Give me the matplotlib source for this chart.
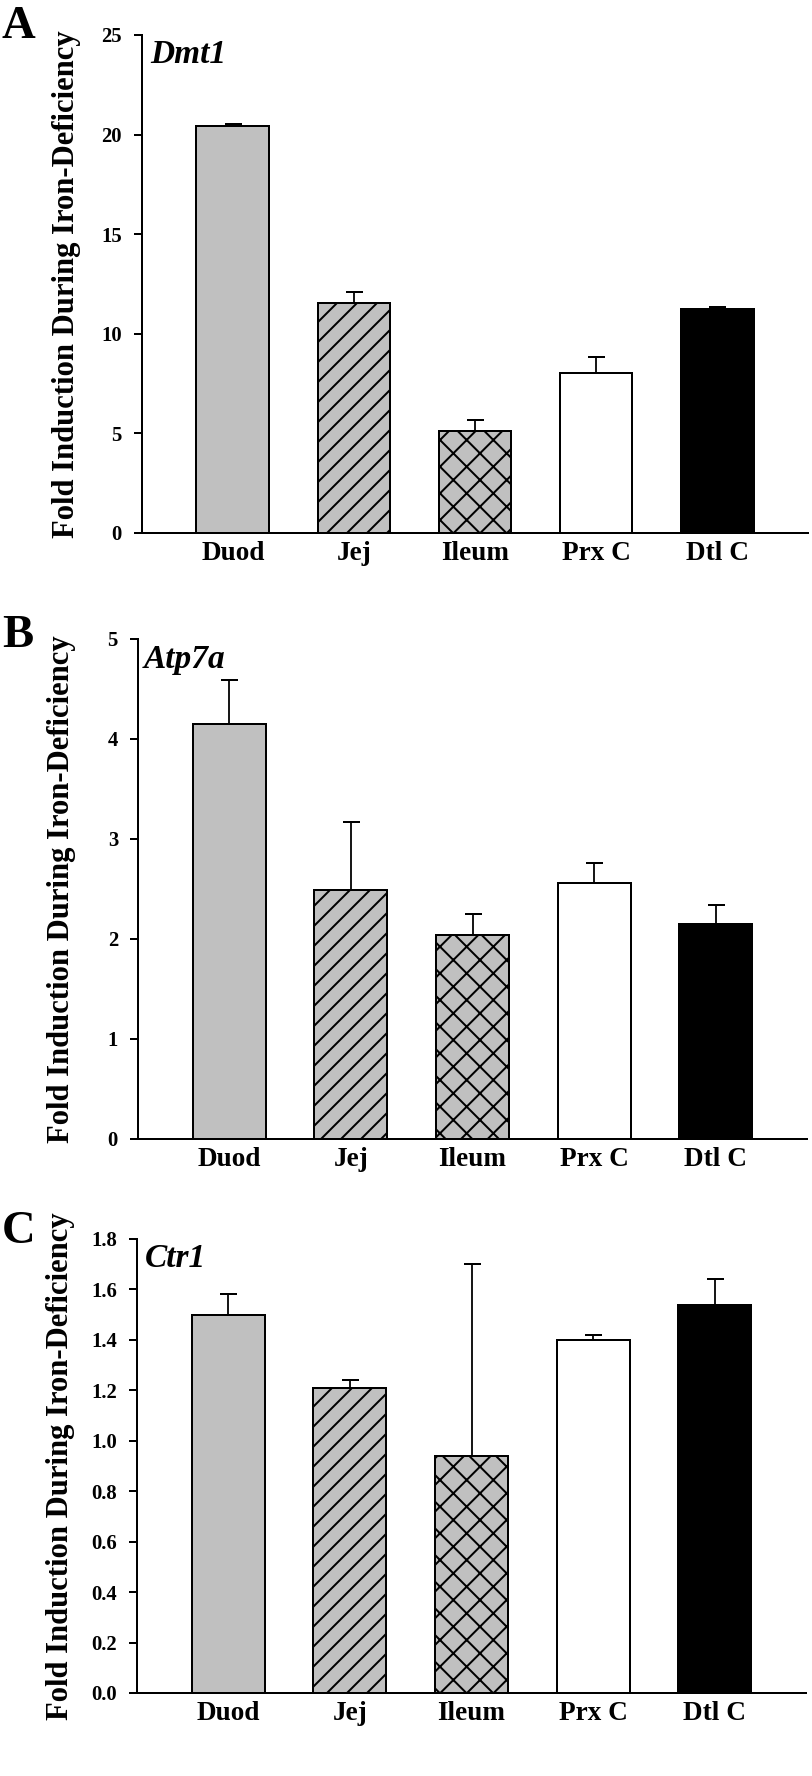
import matplotlib
matplotlib.use('Agg')
import matplotlib.pyplot as plt
from matplotlib.ticker import FormatStrFormatter
import numpy as np

# tissues on the x axis
tissues = ['Duod', 'Jej', 'Ileum', 'Prx C', 'Dtl C']

# fold induction (mean) and upper error
dmt1_mean = [20.43, 11.56, 5.12, 8.02, 11.25]
dmt1_err = [0.08, 0.52, 0.55, 0.80, 0.10]

atp7a_mean = [4.15, 2.49, 2.04, 2.56, 2.15]
atp7a_err = [0.44, 0.68, 0.21, 0.20, 0.19]

ctr1_mean = [1.50, 1.21, 0.94, 1.40, 1.54]
ctr1_err = [0.08, 0.03, 0.76, 0.02, 0.10]

dmt1_ticks = [0, 5, 10, 15, 20, 25]
atp7a_ticks = [0, 1, 2, 3, 4, 5]
ctr1_ticks = [0.0, 0.2, 0.4, 0.6, 0.8, 1.0, 1.2, 1.4, 1.6, 1.8]

# bar styles
fills = ['#c0c0c0', '#c0c0c0', '#c0c0c0', 'white', 'black']
hatches = [None, '////', 'xxx', None, None]

plt.rcParams['font.family'] = ['Liberation Serif', 'DejaVu Serif']
plt.rcParams['font.weight'] = 'bold'
plt.rcParams['axes.labelweight'] = 'bold'
plt.rcParams['hatch.linewidth'] = 0.6

DPI = 240
W, H = 812, 1776


def px(v):
    # pixels -> points at this dpi
    return v * 72.0 / DPI


fig = plt.figure(figsize=(W / DPI, H / DPI), dpi=DPI)

# letter, gene, means, errs, ticks, fmt, axes box (left, top, right, bottom) in px,
# gene label pos (axes coords), letter baseline px
panels = [
    ('A', 'Dmt1', dmt1_mean, dmt1_err, dmt1_ticks, '%d', (142, 35, 808, 533), (0.012, 0.944), 38),
    ('B', 'Atp7a', atp7a_mean, atp7a_err, atp7a_ticks, '%d', (138, 639, 807, 1139), (0.008, 0.942), 647),
    ('C', 'Ctr1', ctr1_mean, ctr1_err, ctr1_ticks, '%.1f', (137, 1239, 806, 1693), (0.012, 0.938), 1243),
]

x = np.arange(len(tissues))

for letter, gene, mean, err, ticks, fmt, box, gpos, lbase in panels:
    l, t, r, b = box
    ax = fig.add_axes([l / W, 1 - b / H, (r - l) / W, (b - t) / H])

    ax.errorbar(x, mean, yerr=[np.zeros(len(mean)), err], fmt='none',
                ecolor='black', elinewidth=px(1.8), capsize=px(8.5),
                capthick=px(2), zorder=1)
    bars = ax.bar(x, mean, width=0.6, color=fills, edgecolor='black',
                  linewidth=px(2), zorder=2)
    for patch, h in zip(bars, hatches):
        if h:
            patch.set_hatch(h)

    ax.set_xlim(-0.75, 4.75)
    ax.set_ylim(0, ticks[-1])
    ax.set_yticks(ticks)
    ax.yaxis.set_major_formatter(FormatStrFormatter(fmt))
    ax.set_xticks(x)
    ax.set_xticklabels(tissues)

    for s in ['top', 'right']:
        ax.spines[s].set_visible(False)
    for s in ['left', 'bottom']:
        ax.spines[s].set_linewidth(px(2))

    ax.tick_params(axis='y', direction='out', length=px(8), width=px(2),
                   pad=px(12), labelsize=6.2)
    ax.tick_params(axis='x', length=0, pad=px(8), labelsize=8.2)

    ax.set_ylabel('Fold Induction During Iron-Deficiency', fontsize=9.2,
                  fontweight='bold')
    ax.yaxis.set_label_coords(-0.092, 0.5)

    ax.text(gpos[0], gpos[1], gene, transform=ax.transAxes, style='italic',
            fontsize=10, va='baseline', ha='left')

    fig.text(2 / W, 1 - lbase / H, letter, fontsize=14, va='baseline', ha='left')

fig.savefig('out.png', dpi=DPI)
